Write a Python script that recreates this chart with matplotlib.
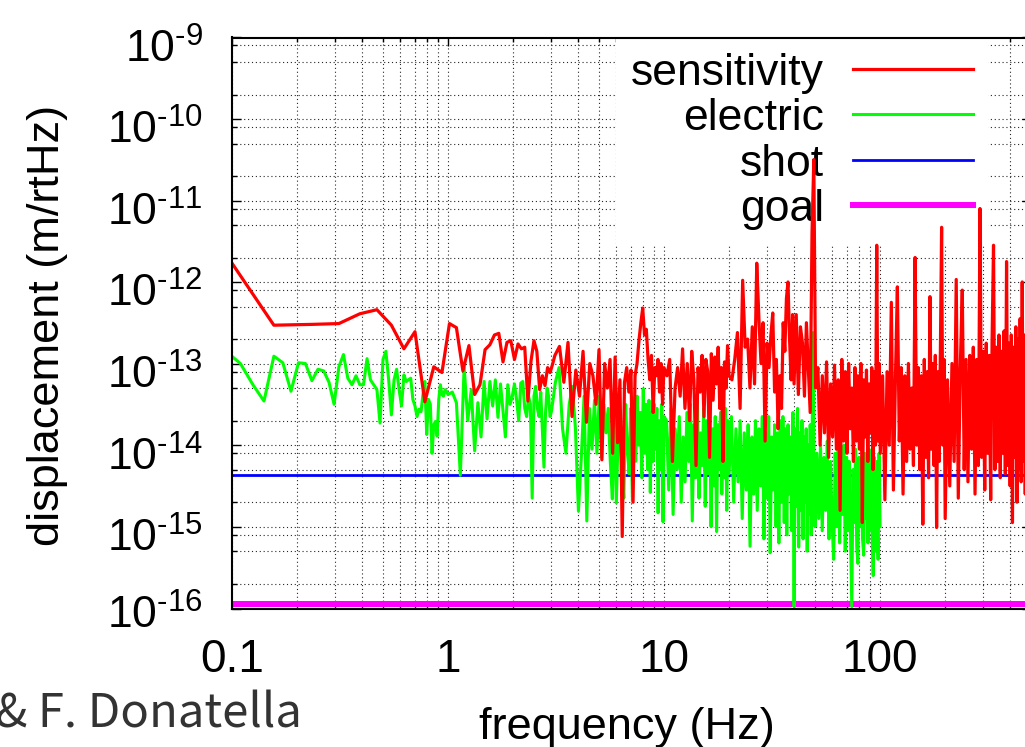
import numpy as np
import matplotlib
matplotlib.use("Agg")
import matplotlib.pyplot as plt
from matplotlib.ticker import FixedLocator, FixedFormatter, FuncFormatter, NullFormatter, LogLocator

plt.rcParams['font.family'] = ['Liberation Sans', 'DejaVu Sans']
plt.rcParams['mathtext.fontset'] = 'custom'
plt.rcParams['mathtext.rm'] = 'Liberation Sans'
plt.rcParams['mathtext.it'] = 'Liberation Sans:italic'
plt.rcParams['mathtext.bf'] = 'Liberation Sans:bold'

# FFT bin widths of the two spectra (Hz)
df_sens = 0.078125
df_elec = 0.015625

# sensitivity: log10 of the amplitude (m/rtHz), read in pieces,
# the bin step grows with frequency so the dense part stays readable
sens_first_bin = 1
sens_steps = [1, 2, 4, 8, 12, 16, 32, 64]
sens_log = [
    # 0.08 - 3 Hz
    [-11.25, -12.43, -12.42, -12.41, -12.29, -12.24, -12.43, -12.72, -12.51, -13.37,
     -12.94, -13.01, -12.41, -12.46, -12.99, -12.68, -13.28, -13.16, -12.73, -12.67,
     -12.55, -12.53, -12.88, -12.64, -12.62, -12.85, -12.66, -12.72, -12.70, -13.36,
     -12.87, -12.62, -12.75, -13.22, -13.05, -13.17, -12.95, -13.01, -12.91, -12.80],
    # 3 - 10 Hz
    [-12.69, -13.13, -12.64, -13.55, -12.98, -13.30, -12.75, -13.62, -12.90, -13.05,
     -13.40, -12.73, -14.08, -12.90, -13.20, -12.85, -14.00, -12.82, -13.87, -13.10,
     -15.02, -13.13, -12.95, -13.25, -12.98, -14.60, -13.05, -12.90, -12.62, -12.40,
     -12.22, -12.55, -12.48, -12.85, -13.10, -12.80, -13.50, -12.95, -13.05, -12.85,
     -13.25, -12.90, -13.40, -12.95],
    # 10 - 20 Hz
    [-13.05, -12.85, -14.10, -13.20, -12.95, -13.30, -12.72, -13.45, -12.90, -13.60,
     -12.75, -13.10, -14.15, -12.95, -13.25, -12.80, -13.55, -12.85, -13.00, -14.05,
     -12.78, -13.35, -12.82, -13.15, -12.70, -13.45, -12.95, -14.10, -12.88, -13.20,
     -12.68, -13.05],
    # 20 - 40 Hz
    [-13.10, -12.85, -12.52, -13.45, -11.88, -12.70, -12.60, -13.20, -12.45, -13.15,
     -11.67, -12.35, -12.90, -12.40, -13.85, -12.65, -12.95, -12.55, -12.28, -13.25,
     -12.85, -13.70, -13.05, -13.45, -12.40, -12.75, -12.10, -11.90, -12.60, -13.10,
     -12.30, -13.15],
    # 40 - 50 Hz
    [-12.30, -13.28, -12.45, -12.65, -13.30, -12.40, -12.95, -13.50, -11.30, -10.40,
     -13.20],
    # 50 - 100 Hz
    [-12.95, -13.90, -13.05, -13.75, -12.88, -14.05, -13.15, -13.80, -12.92, -13.95,
     -13.10, -14.70, -12.85, -13.85, -13.00, -14.00, -12.90, -13.70, -13.20, -14.10,
     -12.95, -13.85, -13.05, -13.95, -12.90, -14.85, -13.10, -13.80, -12.98, -14.10,
     -13.15, -13.75, -12.95, -14.20, -13.00, -13.90, -11.45, -13.85, -12.90, -14.00],
    # 100 - 200 Hz
    [-13.05, -14.57, -13.00, -13.90, -12.15, -14.45, -13.10, -11.96, -13.85, -12.95,
     -14.50, -13.05, -14.10, -12.90, -13.95, -13.20, -14.15, -11.60, -13.90, -12.95,
     -14.20, -13.05, -14.87, -12.85, -14.05, -13.00, -14.30, -12.08, -13.95, -12.90,
     -14.15, -12.80, -14.91, -13.00, -14.10, -12.75, -11.23, -13.90, -12.85, -14.80],
    # 200 - 500 Hz
    [-13.10, -14.40, -12.90, -14.10, -11.87, -14.55, -12.95, -12.00, -14.20, -12.85,
     -14.35, -12.80, -13.95, -12.70, -14.50, -12.85, -14.15, -11.00, -14.05, -12.75,
     -14.45, -12.65, -14.00, -12.80, -14.57, -12.60, -11.45, -14.20, -12.70, -14.10,
     -12.55, -14.30, -12.75, -14.00, -12.50, -14.25, -11.65, -14.15, -12.65, -14.40,
     -12.55, -14.85, -12.70, -14.05, -12.45, -14.60, -12.60, -14.20, -12.35, -14.35,
     -11.90, -14.10, -12.55, -14.50, -12.40, -14.25, -12.65, -14.70, -12.50, -14.15],
]

# electric noise: log10 of the amplitude (m/rtHz)
elec_first_bin = 6
elec_steps = [1, 3, 8, 16, 32, 64]
elec_log = [
    # 0.09 - 1 Hz
    [-12.75, -12.90, -13.16, -13.36, -12.81, -12.89, -13.24, -12.89, -12.90, -13.11,
     -12.97, -12.99, -13.13, -13.40, -12.94, -12.79, -13.08, -13.16, -13.05, -13.16,
     -13.16, -12.84, -13.10, -13.16, -13.22, -13.63, -12.85, -12.75, -13.10, -13.53,
     -13.10, -12.97, -13.22, -13.42, -13.04, -13.12, -13.10, -13.08, -13.34, -13.42,
     -13.55, -13.46, -13.49, -13.28, -13.12, -13.77, -13.34, -13.40, -14.00, -13.65,
     -13.61, -13.79, -13.34, -13.16, -13.28, -13.30, -13.22, -13.24, -13.28],
    # 1 - 3 Hz
    [-13.25, -13.38, -14.27, -12.94, -13.60, -13.22, -13.97, -13.38, -13.80, -13.12,
     -13.58, -13.12, -13.42, -13.10, -13.56, -13.15, -13.48, -13.80, -13.16, -13.40,
     -13.30, -13.15, -13.35, -13.60, -13.14, -13.12, -13.45, -13.55, -13.30, -13.40,
     -14.55, -13.30, -13.18, -13.45, -13.55, -13.25, -13.70, -14.17, -13.50, -13.20,
     -13.30, -13.55, -13.48],
    # 3 - 10 Hz
    [-13.13, -12.95, -13.70, -14.00, -13.40, -13.18, -13.70, -14.71, -14.05, -13.30,
     -14.83, -13.45, -13.95, -13.35, -14.00, -13.30, -14.05, -13.40, -13.75, -13.45,
     -14.10, -14.56, -13.35, -14.61, -13.70, -13.65, -14.20, -14.55, -13.40, -13.95,
     -14.25, -13.45, -14.58, -13.60, -14.10, -13.30, -13.90, -13.50, -14.30, -13.21,
     -14.00, -13.40, -14.20, -13.35, -14.48, -13.50, -14.10, -13.40, -13.95, -13.45,
     -14.73, -13.60, -14.20, -13.40, -14.84, -13.55],
    # 10 - 20 Hz
    [-13.60, -14.45, -13.45, -14.75, -13.70, -14.20, -13.55, -14.60, -13.80, -14.35,
     -13.50, -14.10, -13.40, -14.83, -13.65, -14.30, -13.30, -14.55, -13.75, -14.15,
     -13.45, -14.65, -13.60, -14.25, -13.50, -14.90, -13.70, -14.40, -13.55, -14.96,
     -13.65, -14.20, -13.50, -14.50, -13.75, -14.30, -13.45, -14.70, -13.60, -14.25],
    # 20 - 50 Hz
    [-13.55, -14.60, -13.70, -14.35, -13.60, -14.80, -13.75, -14.45, -13.65, -15.14,
     -13.80, -14.50, -13.60, -14.70, -13.70, -14.40, -13.55, -15.05, -13.75, -14.55,
     -13.55, -15.22, -13.80, -14.45, -13.65, -14.90, -13.75, -15.10, -13.60, -14.60,
     -13.55, -14.85, -13.70, -15.00, -13.65, -14.50, -13.80, -14.95, -13.50, -15.88,
     -13.70, -14.65, -13.45, -15.15, -13.75, -14.70, -13.60, -15.05, -13.80, -14.60,
     -13.70, -15.20, -13.90, -14.75, -13.65, -15.00, -13.80, -12.52, -14.40, -14.90],
    # 50 - 100 Hz
    [-14.00, -14.80, -13.90, -14.95, -14.05, -14.70, -13.85, -15.05, -14.10, -14.85,
     -15.30, -14.00, -14.90, -13.95, -15.10, -14.15, -14.75, -13.90, -15.20, -14.05,
     -14.95, -14.10, -15.00, -15.88, -14.20, -14.85, -13.95, -15.15, -15.35, -14.05,
     -14.90, -14.15, -15.05, -15.25, -14.00, -14.80, -14.10, -15.10, -13.95, -14.95,
     -14.20, -15.00, -15.50, -14.05, -15.20, -14.10, -14.85, -15.30, -14.00, -14.90],
]

shot_level = 5.4e-15
goal_level = 1.4e-16

labels = ["sensitivity", "electric", "shot", "goal"]
x_ticks = [0.1, 1, 10, 100]
x_tick_labels = ["0.1", "1", "10", "100"]
y_decades = list(range(-16, -8))


def spectrum(first_bin, steps, pieces, df):
    """join the pieces, each piece has its own bin step"""
    freq = []
    amp = []
    last = first_bin - steps[0]
    for step, piece in zip(steps, pieces):
        bins = last + step + step * np.arange(len(piece))
        freq.append(bins * df)
        amp.append(10.0 ** np.array(piece))
        last = bins[-1]
    return np.concatenate(freq), np.concatenate(amp)


def ylabel_fmt(v, pos):
    e = np.log10(v)
    if abs(e - round(e)) < 1e-6:
        return r"$\mathregular{10^{\text{-}%d}}$" % (-round(e))
    return ""


def main():
    f_sens, a_sens = spectrum(sens_first_bin, sens_steps, sens_log, df_sens)
    f_elec, a_elec = spectrum(elec_first_bin, elec_steps, elec_log, df_elec)

    fig = plt.figure(figsize=(10.25, 7.47), dpi=100)
    ax = fig.add_axes([232 / 1025, 1 - 608.5 / 747, 799 / 1025, 571 / 747])
    ax.set_xscale("log")
    ax.set_yscale("log")

    # drawing order as in the original: goal, shot, electric, sensitivity on top
    l_goal = ax.axhline(goal_level, color="#ff00ff", lw=4.3, zorder=2.0, label=labels[3])
    l_shot = ax.axhline(shot_level, color="#0000ff", lw=2.0, zorder=2.1, label=labels[2])
    l_elec, = ax.plot(f_elec, a_elec, color="#00ff00", lw=2.2, zorder=2.2, label=labels[1])
    l_sens, = ax.plot(f_sens, a_sens, color="#ff0000", lw=2.3, zorder=2.3, label=labels[0])

    ax.set_xlim(0.1, 500)
    ax.set_ylim(1.25e-16, 1.25e-9)

    # x axis
    ax.xaxis.set_major_locator(FixedLocator(x_ticks))
    ax.xaxis.set_major_formatter(FixedFormatter(x_tick_labels))
    ax.xaxis.set_minor_locator(LogLocator(base=10, subs=np.arange(2, 10), numticks=20))
    ax.xaxis.set_minor_formatter(NullFormatter())

    # y axis: decades plus the odd 2.5 / 6.25 lines, long ticks at 1.25
    major_y = []
    minor_y = []
    for e in y_decades[:-1]:
        major_y += [10.0 ** e, 2.5 * 10.0 ** e, 6.25 * 10.0 ** e]
        minor_y.append(1.25 * 10.0 ** e)
    major_y.append(10.0 ** y_decades[-1])
    minor_y.append(1.25 * 10.0 ** y_decades[-1])
    ax.yaxis.set_major_locator(FixedLocator(major_y))
    ax.yaxis.set_major_formatter(FuncFormatter(ylabel_fmt))
    ax.yaxis.set_minor_locator(FixedLocator(minor_y))
    ax.yaxis.set_minor_formatter(NullFormatter())

    ax.tick_params(axis="both", which="both", direction="in", top=True, right=True, width=1.0)
    ax.tick_params(axis="y", which="major", length=3.6, pad=21, labelsize=32)
    ax.tick_params(axis="y", which="minor", length=6.5)
    ax.tick_params(axis="x", which="major", length=5.8, pad=21, labelsize=33)
    ax.tick_params(axis="x", which="minor", length=2.9)
    for sp in ax.spines.values():
        sp.set_linewidth(1.5)

    # 10^-16 sits just under the lower edge of the range
    ax.annotate(r"$\mathregular{10^{\text{-}16}}$", xy=(0, 1.15e-16),
                xycoords=ax.get_yaxis_transform(), xytext=(-21, 0),
                textcoords="offset points", ha="right", va="center_baseline",
                fontsize=32, annotation_clip=False)

    ax.set_axisbelow(True)
    ax.grid(True, which="both", linestyle=(0, (1, 2.5)), linewidth=0.8, color="0.15")

    leg = ax.legend(handles=[l_sens, l_elec, l_shot, l_goal], loc="upper right",
                    bbox_to_anchor=(0.946, 1.0), borderaxespad=0, fontsize=32,
                    markerfirst=False, handlelength=2.7, handletextpad=0.65,
                    labelspacing=0.1, borderpad=0.34, fancybox=False,
                    edgecolor="none", facecolor="white", framealpha=1.0)
    leg.set_zorder(1.5)

    fig.text(48 / 1025, 1 - 325 / 747, "displacement (m/rtHz)", rotation=90,
             ha="center", va="center", fontsize=32.5)
    fig.text(627 / 1025, 1 - 728 / 747, "frequency (Hz)", ha="center", va="center",
             fontsize=32.5)
    fig.text(302 / 1025, 1 - 728 / 747, "& F. Donatella", ha="right", va="baseline",
             fontsize=34, family=["Noto Sans CJK JP", "DejaVu Sans"], color="#333333")

    fig.savefig("out.png", dpi=100)


if __name__ == "__main__":
    main()
